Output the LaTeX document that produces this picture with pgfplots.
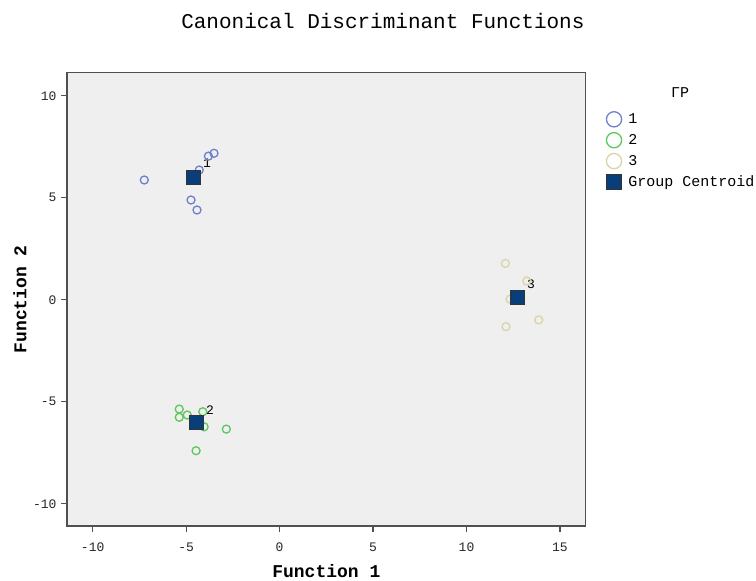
\documentclass[border=0pt]{standalone}
\usepackage{fontspec}
\setmainfont{Liberation Mono}
\usepackage{pgfplots}
\pgfplotsset{compat=1.18}
\definecolor{bgc}{RGB}{239,239,239}
\definecolor{gone}{RGB}{110,128,204}
\definecolor{gtwo}{RGB}{92,200,92}
\definecolor{gthree}{RGB}{218,212,165}
\definecolor{cen}{RGB}{8,62,122}
\definecolor{frm}{RGB}{80,80,80}
\begin{document}
\begin{tikzpicture}
\begin{axis}[
  scale only axis, width=518.7pt, height=453.3pt,
  xmin=-11.375, xmax=16.375, ymin=-11.09, ymax=11.13,
  axis background/.style={fill=bgc},
  axis line style={frm, line width=1.3pt},
  xtick={-10,-5,0,5,10,15}, ytick={-10,-5,0,5,10},
  tick align=outside, xtick pos=bottom, ytick pos=left,
  major tick length=6pt,
  tick style={frm, line width=1.3pt},
  /pgf/number format/assume math mode=true,
  ticklabel style={font=\fontsize{13}{15}\selectfont, text=black!85},
  xticklabel style={yshift=-7pt},
  yticklabel style={xshift=-1pt},
  title={Canonical Discriminant Functions},
  title style={at={(axis description cs:0.609,1.1)}, anchor=center, font=\fontsize{21}{24}\selectfont},
  xlabel={Function 1},
  xlabel style={at={(axis description cs:0.5,-0.1)}, anchor=center, font=\bfseries\fontsize{18}{20}\selectfont},
  ylabel={Function 2},
  ylabel style={at={(axis description cs:-0.0906,0.5)}, anchor=center, font=\bfseries\fontsize{18}{20}\selectfont},
  legend image code/.code={\draw[#1, only marks] plot coordinates {(8.3pt,0pt)}; \path (0pt,0pt) (21pt,0pt);},
  every legend image post/.style={mark size=7.6pt},
  legend style={at={(axis description cs:1.037,0.9144)}, anchor=north west, draw=none, fill=none,
    inner sep=0pt, row sep=5.7pt, font=\fontsize{15}{17}\selectfont,
    nodes={inner sep=1pt, anchor=west}},
  legend cell align=left,
  clip=false,
]
\addplot[only marks, mark=o, mark size=4pt, gone, line width=1.3pt] coordinates {
  (-7.24,5.87) (-4.74,4.89) (-4.42,4.40) (-4.30,6.36) (-3.81,7.04) (-3.51,7.18)};
\addlegendentry{1}
\addplot[only marks, mark=o, mark size=4pt, gtwo, line width=1.3pt] coordinates {
  (-5.37,-5.36) (-5.37,-5.76) (-4.94,-5.65) (-4.11,-5.49) (-4.04,-6.23) (-2.85,-6.34) (-4.47,-7.40)};
\addlegendentry{2}
\addplot[only marks, mark=o, mark size=4pt, gthree, line width=1.3pt] coordinates {
  (12.08,1.78) (13.22,0.92) (12.33,0.03) (12.11,-1.32) (13.86,-0.99)};
\addlegendentry{3}
\addplot[only marks, mark=square*, mark size=7pt, mark options={fill=cen, draw=black!80, line width=1pt}] coordinates {
  (-4.63,6.00) (-4.44,-6.03) (12.74,0.10)};
\addlegendentry{Group Centroid}
\node[font=\fontsize{13}{15}\selectfont] at (axis cs:-3.88,6.70) {1};
\node[font=\fontsize{13}{15}\selectfont] at (axis cs:-3.72,-5.41) {2};
\node[font=\fontsize{13}{15}\selectfont] at (axis cs:13.45,0.77) {3};
\node[font=\fontsize{15}{17}\selectfont] at (axis description cs:1.182,0.957) {ΓP};
\end{axis}
\pgfresetboundingbox
\path (-67pt,-55pt) rectangle (689pt,526pt);
\end{tikzpicture}
\end{document}
